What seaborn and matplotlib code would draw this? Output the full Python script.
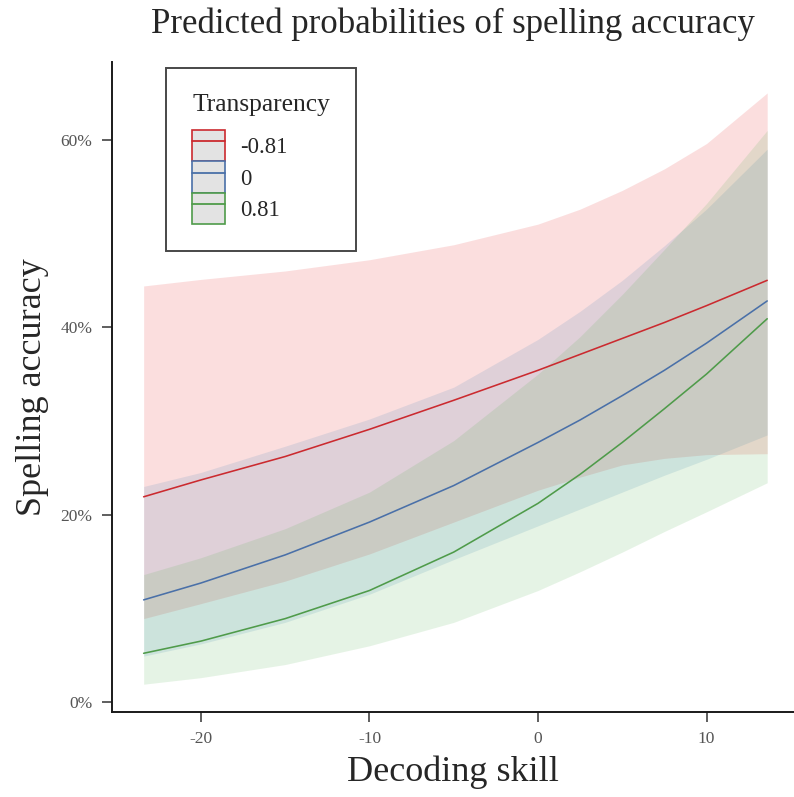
#!/usr/bin/env python3
# Predicted probabilities of spelling accuracy by decoding skill and transparency

import numpy as np
import pandas as pd
import seaborn as sns
import matplotlib.pyplot as plt
from matplotlib.patches import Patch
from matplotlib.lines import Line2D
from matplotlib.ticker import PercentFormatter

decoding = [-23.4, -20, -15, -10, -5, 0, 2.5, 5, 7.5, 10, 13.6]
groups = ["-0.81", "0", "0.81"]

# predicted probability (%) and confidence band
pred_neg = [21.9, 23.7, 26.2, 29.1, 32.2, 35.4, 37.1, 38.8, 40.5, 42.3, 45.0]
low_neg = [8.9, 10.5, 12.9, 15.8, 19.2, 22.6, 24.0, 25.3, 26.0, 26.4, 26.5]
high_neg = [44.4, 45.1, 46.0, 47.2, 48.8, 51.0, 52.6, 54.6, 56.9, 59.6, 65.0]

pred_zero = [10.9, 12.7, 15.7, 19.2, 23.1, 27.7, 30.1, 32.7, 35.4, 38.3, 42.8]
low_zero = [4.9, 6.2, 8.5, 11.5, 15.2, 18.8, 20.6, 22.4, 24.2, 25.9, 28.5]
high_zero = [23.0, 24.5, 27.3, 30.2, 33.6, 38.7, 41.7, 45.0, 48.7, 52.6, 59.0]

pred_pos = [5.2, 6.5, 8.9, 11.9, 16.0, 21.2, 24.3, 27.7, 31.3, 35.0, 40.9]
low_pos = [1.9, 2.6, 4.0, 6.0, 8.5, 11.9, 13.9, 16.0, 18.2, 20.3, 23.4]
high_pos = [13.6, 15.4, 18.5, 22.4, 27.9, 35.0, 39.0, 43.5, 48.3, 53.2, 61.0]

line_colors = ["#CB2A2F", "#4A70A8", "#4F9B4A"]
fill_colors = ["#E41A1C", "#377EB8", "#4DAF4A"]

frames = []
for g, p, lo, hi in zip(groups,
                        [pred_neg, pred_zero, pred_pos],
                        [low_neg, low_zero, low_pos],
                        [high_neg, high_zero, high_pos]):
    frames.append(pd.DataFrame({
        "decoding": decoding,
        "pred": np.array(p) / 100,
        "low": np.array(lo) / 100,
        "high": np.array(hi) / 100,
        "transparency": g,
    }))
data = pd.concat(frames, ignore_index=True)

sns.set_style("white")
plt.rcParams["font.family"] = ["Liberation Serif", "DejaVu Serif"]
plt.rcParams["axes.unicode_minus"] = False

fig = plt.figure(figsize=(7.94, 7.97), dpi=100)
ax = fig.add_axes([0.141, 0.1066, 0.859, 0.8156])

for g, fc in zip(groups, fill_colors):
    sub = data[data["transparency"] == g]
    ax.fill_between(sub["decoding"], sub["low"], sub["high"], color=fc, alpha=0.14, linewidth=0)

sns.lineplot(data=data, x="decoding", y="pred", hue="transparency", hue_order=groups,
             palette=line_colors, linewidth=1.15, legend=False, ax=ax)

ax.set_xlim(-25.28, 15.19)
ax.set_ylim(-0.0107, 0.683)
ax.set_xticks([-20, -10, 0, 10])
ax.set_yticks([0, 0.2, 0.4, 0.6])
ax.yaxis.set_major_formatter(PercentFormatter(1.0, decimals=0))

for side in ["top", "right"]:
    ax.spines[side].set_visible(False)
for side in ["left", "bottom"]:
    ax.spines[side].set_color("#1a1a1a")
    ax.spines[side].set_linewidth(1.4)
ax.tick_params(axis="both", direction="out", length=7, width=1.1, color="#333333",
               labelsize=12.5, labelcolor="#555555", pad=7,
               bottom=True, left=True)

ax.set_xlabel("Decoding skill", fontsize=26, labelpad=6)
ax.set_ylabel("Spelling accuracy", fontsize=26, labelpad=8)
ax.set_title("Predicted probabilities of spelling accuracy", fontsize=25, pad=21)

handles = []
for lc in line_colors:
    handles.append((Patch(facecolor="#E3E3E3", edgecolor=lc, linewidth=1.2),
                    Line2D([], [], color=lc, linewidth=1.3)))
leg = ax.legend(handles, groups, title="Transparency", loc="upper left",
                bbox_to_anchor=(0.079, 0.991), borderaxespad=0,
                fontsize=16.4, title_fontsize=18.4,
                frameon=True, fancybox=False, edgecolor="#1a1a1a",
                handlelength=1.45, handleheight=1.75, handletextpad=0.65,
                labelspacing=0.0, borderpad=1.15, alignment="left")
leg.get_frame().set_linewidth(1.4)
leg._legend_box.sep = 10  # extra room between legend title and keys

plt.savefig("out.png", dpi=100)
